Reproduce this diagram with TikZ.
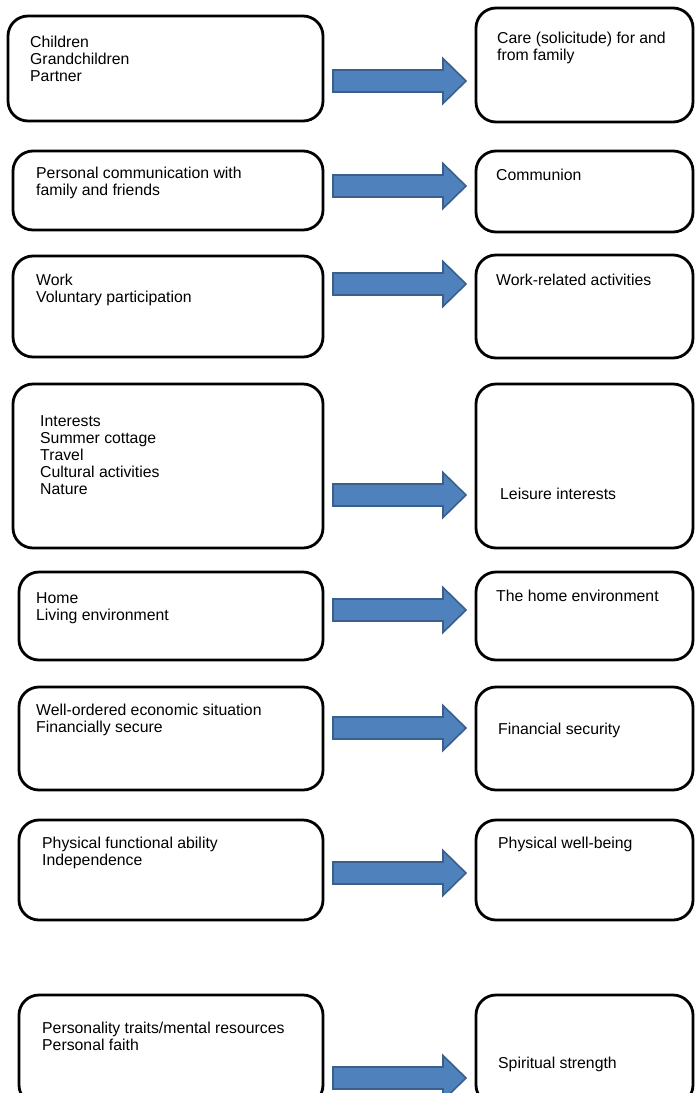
\documentclass[tikz,border=0pt]{standalone}
\usepackage{fontspec}
\setmainfont{Liberation Sans}
\usetikzlibrary{calc}
\definecolor{arrowfill}{HTML}{4F81BD}
\definecolor{arrowline}{HTML}{3A5F8B}

% rounded frame given by its top-left and bottom-right corners
\newcommand\frameat[5]{%
  \node[frame, anchor=north west,
        minimum width={(#4-#2)*1pt}, minimum height={(#5-#3)*1pt}]
        (#1) at (#2,#3) {};}
% broad block arrow starting at a named coordinate (left end, centre line)
\newcommand\blockarrow[1]{%
  \draw[fatarrow] (#1) ++(0,-11) -- ++(110,0) -- ++(0,-11.5) -- ++(23,22.5)
    -- ++(-23,22.5) -- ++(0,-11.5) -- ++(-110,0) -- cycle;}

\begin{document}
\begin{tikzpicture}[x=1pt, y=-1pt,
  frame/.style={draw=black, line width=2.8pt, rounded corners=20pt,
                inner sep=0pt, outer sep=0pt},
  label/.style={anchor=north west, align=left, inner sep=0pt,
                font=\fontsize{15.8}{17}\selectfont},
  fatarrow/.style={fill=arrowfill, draw=arrowline, line width=1.6pt,
                   line join=miter}]
\useasboundingbox (0,0) rectangle (694,1093);

% ---- family
\frameat{L1}{8}{16}{323}{121}
\frameat{R1}{476}{8}{693}{122}
\node[label] (tL1) at (30,36) {Children\\Grandchildren\\Partner};
\node[label] (tR1) at (497,32) {Care (solicitude) for and\\from family};
\coordinate (a1) at (333,81);
\blockarrow{a1}

% ---- communion
\frameat{L2}{13}{151}{323}{230}
\frameat{R2}{476}{151}{693}{232}
\node[label] (tL2) at (36,167) {Personal communication with\\family and friends};
\node[label] (tR2) at (496,169) {Communion};
\coordinate (a2) at (333,186);
\blockarrow{a2}

% ---- work
\frameat{L3}{13}{256}{323}{357}
\frameat{R3}{476}{255}{693}{358}
\node[label] (tL3) at (36,274) {Work\\Voluntary participation};
\node[label] (tR3) at (496,274) {Work-related activities};
\coordinate (a3) at (333,284);
\blockarrow{a3}

% ---- leisure
\frameat{L4}{13}{384}{323}{548}
\frameat{R4}{476}{384}{693}{548}
\node[label] (tL4) at (40,415) {Interests\\Summer cottage\\Travel\\Cultural activities\\Nature};
\node[label] (tR4) at (500,488) {Leisure interests};
\coordinate (a4) at (333,495);
\blockarrow{a4}

% ---- home
\frameat{L5}{19}{572}{323}{660}
\frameat{R5}{476}{572}{693}{660}
\node[label] (tL5) at (36,592) {Home\\Living environment};
\node[label] (tR5) at (496,590) {The home environment};
\coordinate (a5) at (333,610);
\blockarrow{a5}

% ---- finances
\frameat{L6}{19}{687}{323}{790}
\frameat{R6}{476}{687}{693}{790}
\node[label] (tL6) at (36,704) {Well-ordered economic situation\\Financially secure};
\node[label] (tR6) at (498,723) {Financial security};
\coordinate (a6) at (333,728);
\blockarrow{a6}

% ---- physical
\frameat{L7}{19}{820}{323}{920}
\frameat{R7}{476}{820}{693}{920}
\node[label] (tL7) at (42,837) {Physical functional ability\\Independence};
\node[label] (tR7) at (498,837) {Physical well-being};
\coordinate (a7) at (333,873);
\blockarrow{a7}

% ---- spiritual
\frameat{L8}{19}{995}{323}{1105}
\frameat{R8}{476}{995}{693}{1105}
\node[label] (tL8) at (42,1022) {Personality traits/mental resources\\Personal faith};
\node[label] (tR8) at (498,1057) {Spiritual strength};
\coordinate (a8) at (333,1078);
\blockarrow{a8}
\end{tikzpicture}
\end{document}
